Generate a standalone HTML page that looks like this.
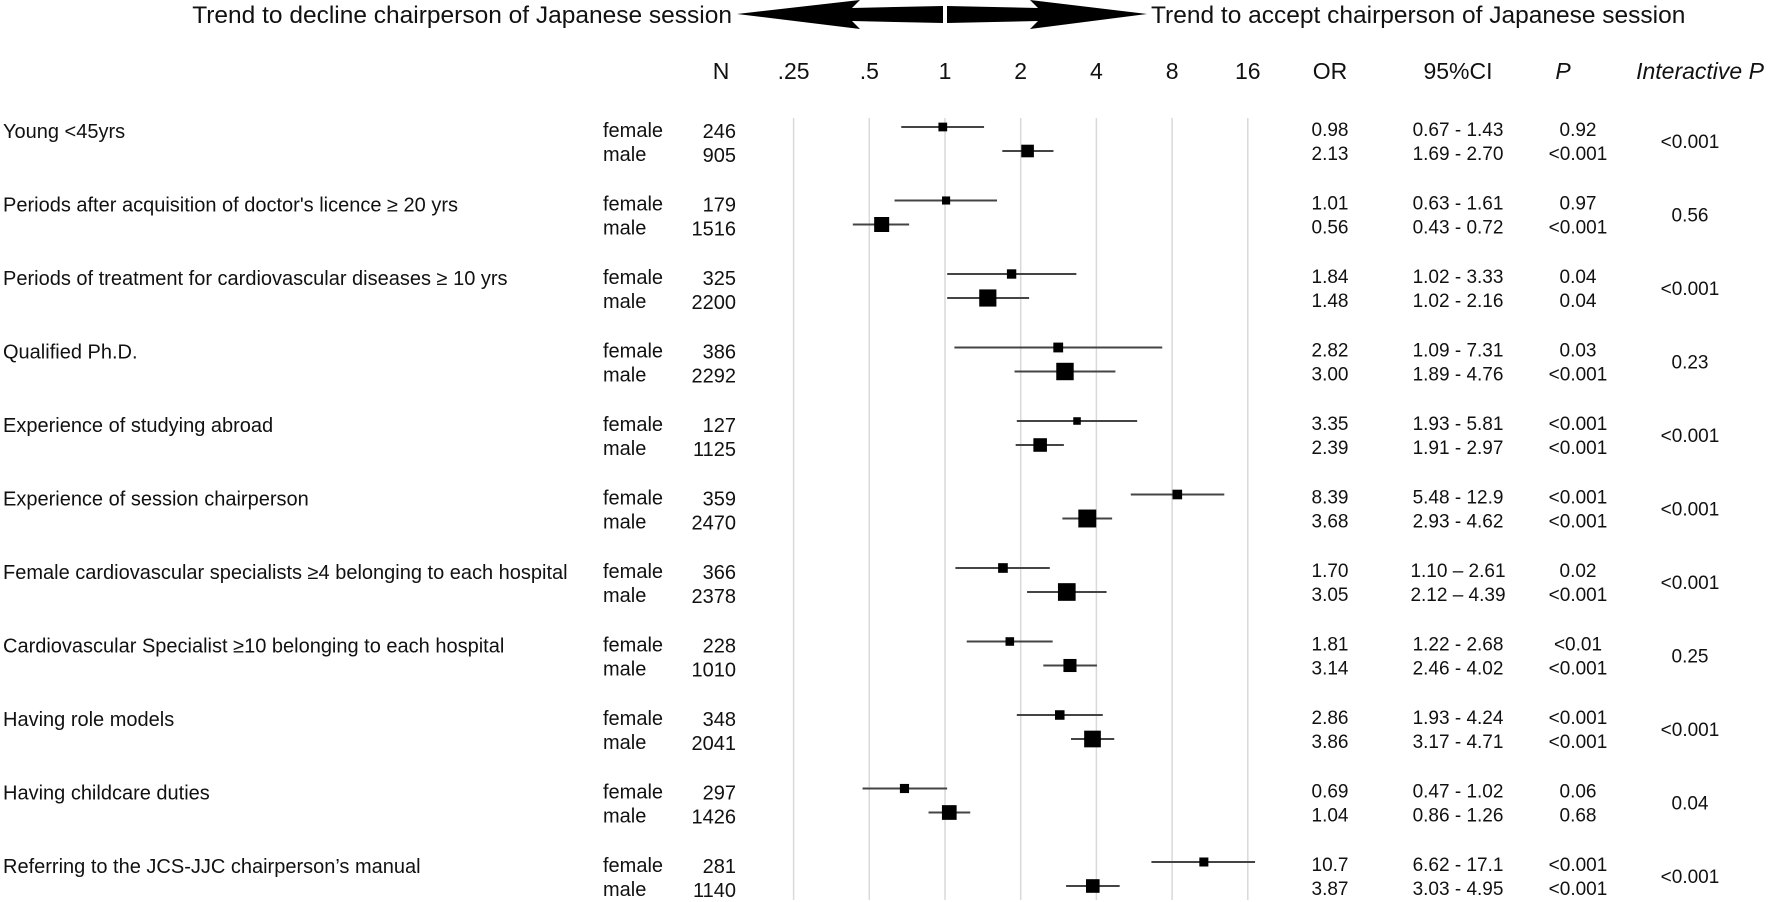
<!DOCTYPE html>
<html><head><meta charset="utf-8">
<style>
html,body{margin:0;padding:0;background:#fff;}
svg{display:block;font-family:"Liberation Sans",Arial,sans-serif;}
</style></head>
<body>
<svg id="chart" width="1772" height="902" viewBox="0 0 1772 902" xmlns="http://www.w3.org/2000/svg">
  <text x="732" y="23" text-anchor="end" font-size="24.5" fill="#111">Trend to decline chairperson of Japanese session</text>
  <text x="1151" y="23" font-size="24.5" fill="#111">Trend to accept chairperson of Japanese session</text>
  <g>
    <polygon points="737,14 860,0 852,8 943,6 943,23 852,21 860,29" fill="#000"/>
    <polygon points="1147,14 1030,0 1038,8 947,6 947,23 1038,21 1030,29" fill="#000"/>
  </g>
  <g id="header" font-size="23" fill="#111">
    <text x="721" y="79" text-anchor="middle">N</text>
    <text x="1330" y="79" text-anchor="middle">OR</text>
    <text x="1458" y="79" text-anchor="middle">95%CI</text>
    <text x="1563" y="79" text-anchor="middle" font-style="italic">P</text>
    <text x="1700" y="79" text-anchor="middle" font-style="italic">Interactive P</text>
  </g>
  <g id="grid"></g>
  <g id="rows"></g>
</svg>
<script>
const ticks = [0.25, 0.5, 1, 2, 4, 8, 16];
const tickLabels = [".25", ".5", "1", "2", "4", "8", "16"];
const groups = ["Young <45yrs","Periods after acquisition of doctor's licence \u2265 20 yrs","Periods of treatment for cardiovascular diseases \u2265 10 yrs","Qualified Ph.D.","Experience of studying abroad","Experience of session chairperson","Female cardiovascular specialists \u22654 belonging to each hospital","Cardiovascular Specialist \u226510 belonging to each hospital","Having role models","Having childcare duties","Referring to the JCS-JJC chairperson\u2019s manual"];
const femaleN = [246,179,325,386,127,359,366,228,348,297,281];
const maleN = [905,1516,2200,2292,1125,2470,2378,1010,2041,1426,1140];
const femaleOR = [0.98,1.01,1.84,2.82,3.35,8.39,1.70,1.81,2.86,0.69,10.7];
const femaleLo = [0.67,0.63,1.02,1.09,1.93,5.48,1.10,1.22,1.93,0.47,6.62];
const femaleHi = [1.43,1.61,3.33,7.31,5.81,12.9,2.61,2.68,4.24,1.02,17.1];
const maleOR = [2.13,0.56,1.48,3.00,2.39,3.68,3.05,3.14,3.86,1.04,3.87];
const maleLo = [1.69,0.43,1.02,1.89,1.91,2.93,2.12,2.46,3.17,0.86,3.03];
const maleHi = [2.70,0.72,2.16,4.76,2.97,4.62,4.39,4.02,4.71,1.26,4.95];
const femaleP = ["0.92","0.97","0.04","0.03","<0.001","<0.001","0.02","<0.01","<0.001","0.06","<0.001"];
const maleP = ["<0.001","<0.001","0.04","<0.001","<0.001","<0.001","<0.001","<0.001","<0.001","0.68","<0.001"];
const femaleCI = ["0.67 - 1.43","0.63 - 1.61","1.02 - 3.33","1.09 - 7.31","1.93 - 5.81","5.48 - 12.9","1.10 \u2013 2.61","1.22 - 2.68","1.93 - 4.24","0.47 - 1.02","6.62 - 17.1"];
const maleCI = ["1.69 - 2.70","0.43 - 0.72","1.02 - 2.16","1.89 - 4.76","1.91 - 2.97","2.93 - 4.62","2.12 \u2013 4.39","2.46 - 4.02","3.17 - 4.71","0.86 - 1.26","3.03 - 4.95"];
const femaleORText = ["0.98","1.01","1.84","2.82","3.35","8.39","1.70","1.81","2.86","0.69","10.7"];
const maleORText = ["2.13","0.56","1.48","3.00","2.39","3.68","3.05","3.14","3.86","1.04","3.87"];
const interactiveP = ["<0.001","0.56","<0.001","0.23","<0.001","<0.001","<0.001","0.25","<0.001","0.04","<0.001"];

const NS = "http://www.w3.org/2000/svg";
function xScale(v){ return 945 + 75.7 * Math.log2(v); }
function rowY(i){ return 130 + 73.5 * i; }
function mk(tag, attrs, parent){ const e=document.createElementNS(NS,tag); for(const k in attrs) e.setAttribute(k,attrs[k]); parent.appendChild(e); return e; }
function txt(s, attrs, parent){ const e=mk('text',attrs,parent); e.textContent=s; return e; }

const grid=document.getElementById('grid');
const header=document.getElementById('header');
ticks.forEach((t,k)=>{
  const l=mk('line',{x1:xScale(t),x2:xScale(t),y1:118,y2:900,stroke:'#d9d9d9','stroke-width':1.5},grid);
  
  
  const tl=txt(tickLabels[k],{x:xScale(t),y:79,'text-anchor':'middle','font-size':23,fill:'#111'},header);
  
  
});

const rows=document.getElementById('rows');
function sz(n){ return 4.5 + 0.27*Math.sqrt(n); }
groups.forEach((g,i)=>{
  const yf=rowY(i), ym=yf+24;
  const grp=mk('g',{'font-size':20,fill:'#111'},rows);
  
  
  const lab=txt(g,{x:3,y:yf+8},grp);
  
  
  const data=[["female",femaleN[i],femaleOR[i],femaleLo[i],femaleHi[i],femaleORText[i],femaleCI[i],femaleP[i],yf],
              ["male",maleN[i],maleOR[i],maleLo[i],maleHi[i],maleORText[i],maleCI[i],maleP[i],ym]];
  data.forEach(d=>{
    const y=d[8];
    const s1=txt(d[0],{x:603,y:y+7},grp);
    
    
    const s2=txt(String(d[1]),{x:736,y:y+8,'text-anchor':'end'},grp);
    
    
    const my=y-3;
    const ci=mk('line',{x1:xScale(d[3]),x2:xScale(d[4]),y1:my,y2:my,stroke:'#444','stroke-width':2},grp);
    
    
    const w=sz(d[1]);
    const r=mk('rect',{x:xScale(d[2])-w/2,y:my-w/2,width:w,height:w,fill:'#000'},grp);
    
    
    const o=txt(d[5],{x:1330,y:y+6,'text-anchor':'middle','font-size':19},grp);
    
    
    const c=txt(d[6],{x:1458,y:y+6,'text-anchor':'middle','font-size':19},grp);
    
    
    const p=txt(d[7],{x:1578,y:y+6,'text-anchor':'middle','font-size':19},grp);
    
    
  });
  const ip=txt(interactiveP[i],{x:1690,y:yf+18,'text-anchor':'middle','font-size':19},grp);
  
  
});
</script>
</body></html>
